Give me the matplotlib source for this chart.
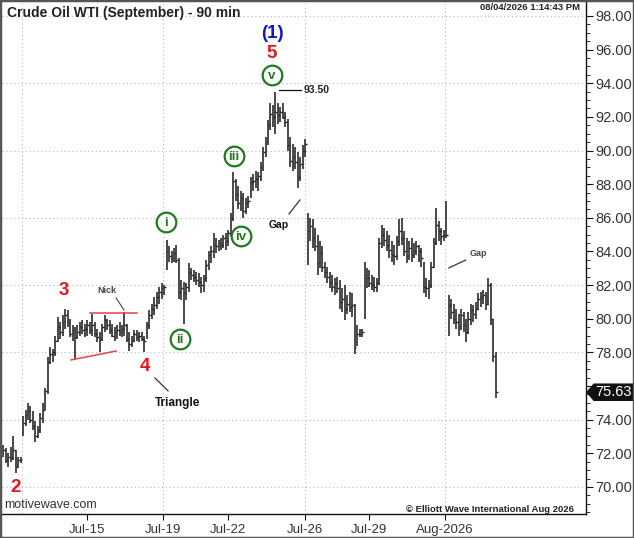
import matplotlib
matplotlib.use("Agg")
import matplotlib.pyplot as plt
from matplotlib.patches import Rectangle, Polygon
import matplotlib.transforms as mtransforms

plt.rcParams['font.family'] = ['Liberation Sans', 'DejaVu Sans']

# ---------------- data (90-min bars) ----------------
highs = [
    72.5, 72.3, 72.0, 72.4, 73.0, 72.2, 71.8, 71.8,
    74.2, 74.6, 75.0, 74.8, 74.5, 73.9, 73.6, 74.4, 75.0, 75.9, 77.7,
    78.3, 78.2, 79.0, 80.1, 79.8, 80.2, 80.6, 80.5, 80.0, 79.6, 79.5,
    79.6, 79.8, 79.9, 79.7, 79.9, 79.8, 80.3, 79.8, 79.4, 79.2,
    79.7, 80.2, 80.0, 79.9, 79.7, 79.5, 79.6, 79.8, 79.6, 80.4,
    79.7, 79.2, 79.0, 79.3, 79.3, 79.2, 79.2, 79.0,
    79.8, 80.5, 80.9, 81.3, 81.6, 81.9, 82.1, 82.0,
    84.7, 84.3, 84.0, 84.2, 84.4, 83.6, 82.3, 82.2, 82.1, 83.3,
    83.0, 82.9, 82.8, 82.7, 82.5, 82.6, 83.5, 84.0, 84.3, 85.1,
    84.8, 84.7, 84.8, 85.0, 85.1, 85.3, 86.3, 88.7, 88.3, 87.9,
    87.6, 87.5, 87.2, 87.3, 88.4, 88.6, 88.8, 88.7, 89.3, 90.2,
    90.8, 91.8, 92.8, 92.7, 93.5, 92.8, 92.6, 92.8, 92.3, 91.9,
    90.8, 90.4, 90.2, 89.9, 89.6, 90.3, 90.7,
    86.3, 86.0, 85.9, 85.4, 85.0, 84.6, 84.3, 83.4, 83.1, 82.8,
    82.6, 82.4, 82.5, 82.3, 81.8, 82.0, 81.4, 81.6, 81.5, 80.9,
    79.6, 79.4, 79.4, 83.4, 83.0, 82.9, 82.6, 82.5, 82.4, 84.8,
    85.6, 85.4, 85.2, 85.0, 84.6, 84.4, 84.9, 85.9, 86.0, 85.2,
    84.8, 84.6, 84.8, 84.5, 84.6, 84.4, 84.2, 83.4, 82.4, 82.3,
    83.4, 84.8, 86.6, 85.8, 85.4, 85.3, 87.0,
    81.4, 81.2, 80.9, 80.6, 80.3, 80.6, 80.4, 80.0, 80.4, 80.9,
    80.8, 81.0, 81.5, 81.6, 81.7, 81.6, 82.4, 82.1, 80.0, 78.0,
]
lows = [
    71.8, 71.4, 71.2, 71.5, 71.6, 70.8, 71.1, 71.4,
    73.0, 73.6, 74.0, 73.8, 73.4, 72.7, 72.9, 73.2, 73.8, 74.6, 75.5,
    77.3, 77.4, 77.8, 78.6, 78.8, 79.0, 79.4, 79.5, 78.9, 78.7, 77.6,
    78.8, 79.0, 79.1, 78.9, 79.0, 79.1, 79.0, 78.9, 78.6, 78.0,
    78.7, 79.2, 79.3, 79.1, 78.9, 78.7, 78.8, 79.0, 78.9, 79.0,
    78.6, 78.1, 78.3, 78.6, 78.7, 78.6, 78.7, 78.0,
    78.8, 79.4, 80.0, 80.2, 80.6, 80.9, 81.2, 81.4,
    82.9, 83.4, 83.3, 83.4, 83.3, 81.2, 81.1, 79.7, 81.1, 81.6,
    82.3, 82.2, 82.0, 81.9, 81.5, 81.6, 82.2, 82.9, 83.3, 83.6,
    83.9, 84.0, 84.1, 84.2, 84.1, 84.3, 84.9, 85.8, 87.0, 86.5,
    86.4, 86.0, 86.2, 86.6, 87.2, 87.6, 87.8, 87.6, 88.2, 88.8,
    89.6, 90.3, 91.2, 91.4, 91.0, 91.6, 91.7, 91.9, 91.4, 90.0,
    89.0, 88.8, 88.9, 87.8, 88.2, 88.9, 89.6,
    83.2, 84.6, 84.2, 84.0, 82.6, 83.0, 82.8, 82.4, 82.1, 81.8,
    81.6, 81.4, 81.5, 80.6, 80.4, 79.9, 80.3, 80.4, 80.1, 77.9,
    78.4, 78.9, 78.9, 80.0, 81.8, 81.9, 81.7, 81.6, 81.6, 82.0,
    84.2, 84.3, 84.0, 83.6, 83.4, 83.2, 83.5, 84.3, 84.4, 83.7,
    83.3, 83.5, 83.4, 83.6, 83.8, 83.4, 83.1, 81.5, 81.3, 81.2,
    81.8, 83.0, 84.4, 84.6, 84.4, 84.6, 84.8,
    79.0, 80.0, 79.7, 79.4, 79.0, 79.3, 79.2, 78.6, 79.1, 79.6,
    79.8, 80.0, 80.5, 80.7, 80.9, 80.5, 80.8, 79.6, 77.4, 75.3,
]
closes = [
    72.2, 71.6, 71.8, 71.7, 72.2, 71.2, 71.6, 71.6,
    73.8, 74.3, 74.5, 74.0, 73.6, 73.0, 73.4, 74.1, 74.6, 75.7, 77.4,
    77.9, 78.0, 78.7, 79.5, 79.2, 79.8, 80.2, 79.8, 79.1, 79.3, 78.9,
    79.2, 79.5, 79.3, 79.4, 79.6, 79.3, 79.6, 79.1, 78.9, 78.8,
    79.5, 79.9, 79.6, 79.3, 79.0, 79.2, 79.3, 79.2, 79.4, 79.6,
    78.8, 78.5, 78.7, 79.1, 78.9, 79.0, 78.8, 78.7,
    79.6, 80.2, 80.6, 80.8, 81.3, 81.6, 81.8, 81.9,
    84.0, 83.7, 83.6, 83.9, 83.5, 81.6, 81.8, 81.5, 81.9, 82.8,
    82.6, 82.5, 82.3, 82.2, 82.0, 82.4, 83.2, 83.8, 84.0, 84.4,
    84.3, 84.5, 84.4, 84.8, 84.6, 85.1, 86.0, 88.2, 87.4, 86.9,
    87.2, 86.4, 86.9, 87.0, 88.1, 88.2, 88.3, 88.5, 89.0, 89.9,
    90.5, 91.5, 92.2, 92.0, 92.3, 92.1, 92.3, 92.0, 91.7, 90.3,
    89.4, 89.6, 89.3, 88.4, 89.2, 90.0, 90.4,
    85.2, 85.5, 84.8, 84.3, 83.3, 83.9, 83.1, 82.8, 82.5, 82.2,
    81.9, 82.1, 81.8, 81.0, 81.2, 80.6, 80.9, 80.7, 80.8, 78.3,
    79.1, 79.1, 79.2, 82.4, 82.4, 82.1, 82.0, 81.9, 82.1, 84.5,
    85.0, 84.7, 84.4, 84.1, 83.8, 83.7, 84.6, 85.2, 84.8, 84.0,
    83.7, 84.2, 83.8, 84.0, 84.3, 84.0, 83.6, 81.9, 81.8, 82.0,
    83.1, 84.5, 85.6, 85.2, 84.9, 85.0, 85.0,
    80.8, 80.4, 80.0, 79.8, 79.5, 80.2, 79.6, 79.2, 80.0, 80.5,
    80.3, 80.6, 81.2, 81.3, 81.4, 80.9, 82.0, 80.0, 77.8, 75.63,
]
date_labels = ["Jul-15", "Jul-19", "Jul-22", "Jul-26", "Jul-29", "Aug-2026"]
date_bars = [33.8, 64.5, 90.8, 121.9, 147.8, 178.5]      # bar index of each date label
week_bars = [7.6, 64.5, 121.9, 178.5]                     # weekly grid (Sundays)
last_price = 75.63
peak_price = 93.50

# ---------------- figure ----------------
W, H = 634, 538
fig = plt.figure(figsize=(W / 100, H / 100), dpi=100)
fig.patch.set_facecolor('white')
ax = fig.add_axes([2 / W, 24 / H, 584 / W, 512 / H])
ax.set_xlim(-0.5, 235.5)
ax.set_ylim(68.39, 98.83)

# grid
for y in range(70, 99, 4):
    ax.axhline(y, color='#b8b8b8', lw=0.8, ls=(0, (1, 2.5)), zorder=0)
for xb in week_bars:
    ax.axvline(xb, color='#b8b8b8', lw=0.8, ls=(0, (1, 2.5)), zorder=0)

# OHLC bars
idx = list(range(len(closes)))
ax.vlines(idx, lows, highs, color='#222222', lw=1.15, zorder=3)
ax.hlines(closes, [i for i in idx], [i + 0.75 for i in idx], color='#222222', lw=1.0, zorder=3)

# axes style
for s in ['left', 'top']:
    ax.spines[s].set_visible(False)
for s in ['right', 'bottom']:
    ax.spines[s].set_color('#111111')
    ax.spines[s].set_linewidth(1.0)
ax.yaxis.tick_right()
yt = list(range(70, 99, 2))
ax.set_yticks(yt)
# the 76.00 label sits under the last-price tag, as in the reference
ax.set_yticklabels(["" if y == 76 else f"{y:.2f}" for y in yt])
ax.set_yticks([y / 2 for y in range(137, 197)], minor=True)
ax.tick_params(axis='y', which='major', length=5, width=0.8, pad=2, labelsize=10.5, colors='#111111', labelcolor='#333333')
ax.tick_params(axis='y', which='minor', length=3, width=0.6, colors='#111111')
ax.set_xticks(date_bars)
ax.set_xticklabels(date_labels)
ax.tick_params(axis='x', which='major', length=4, width=0.8, pad=3, labelsize=9.5, colors='#111111', labelcolor='#333333')

# last price tag
tr = mtransforms.blended_transform_factory(ax.transAxes, ax.transData)
pxw = 1 / 584
hh = 0.48
tag = Polygon([(1.0 + 1 * pxw, last_price), (1.0 + 8 * pxw, last_price + hh),
               (1.0 + 47 * pxw, last_price + hh), (1.0 + 47 * pxw, last_price - hh),
               (1.0 + 8 * pxw, last_price - hh)], closed=True, transform=tr,
              facecolor='#111111', edgecolor='#111111', clip_on=False, zorder=10)
ax.add_patch(tag)
ax.text(1.0 + 9 * pxw, last_price, f"{last_price:.2f}", transform=tr, color='white',
        fontsize=10.5, va='center', ha='left', zorder=11, clip_on=False)

# wave labels
red = '#e8141c'
green = '#1f7a1f'
blue = '#1414c8'
ax.text(108.6, 96.93, "(1)", color=blue, fontsize=13.5, fontweight='bold', ha='center', va='center')
ax.text(108.6, 95.74, "5", color=red, fontsize=13.5, fontweight='bold', ha='center', va='center')
ax.text(24.6, 81.65, "3", color=red, fontsize=13.5, fontweight='bold', ha='center', va='center')
ax.text(57.3, 77.13, "4", color=red, fontsize=13.5, fontweight='bold', ha='center', va='center')
ax.text(4.8, 69.94, "2", color=red, fontsize=13.5, fontweight='bold', ha='center', va='center')

circ = [("v", 108.6, 94.49), ("iii", 93.2, 89.68), ("iv", 96.1, 84.92),
        ("i", 65.8, 85.75), ("ii", 71.4, 78.8)]
for lab, cx, cy in circ:
    ax.scatter([cx], [cy], s=200, facecolor='white', edgecolor=green, linewidths=1.6, zorder=6)
    ax.text(cx, cy - 0.05, lab, color=green, fontsize=9.5, fontweight='bold',
            ha='center', va='center', zorder=7)

# 93.50 marker
ax.plot([111.4, 120.3], [93.6, 93.6], color='#111111', lw=0.9)
ax.text(121.3, 93.6, f"{peak_price:.2f}", fontsize=7.5, fontweight='bold', color='#222222',
        ha='left', va='center')

# triangle lines
ax.plot([35.1, 54.0], [80.34, 80.34], color='#f04040', lw=1.1, zorder=4)
ax.plot([27.4, 45.6], [77.55, 78.08], color='#f04040', lw=1.1, zorder=4)

# Nick
ax.text(41.9, 81.65, "Nick", fontsize=6.5, fontweight='bold', color='#444444', ha='center', va='center')
ax.plot([45.6, 48.8], [81.23, 80.52], color='#444444', lw=0.8)

# Triangle
ax.text(70.6, 75.0, "Triangle", fontsize=8.5, fontweight='bold', color='#111111', ha='center', va='center')
ax.plot([61.3, 66.6], [76.48, 75.71], color='#333333', lw=0.9)

# Gaps
ax.text(111.4, 85.57, "Gap", fontsize=7.5, fontweight='bold', color='#111111', ha='center', va='center')
ax.plot([115.5, 119.9], [86.23, 87.06], color='#333333', lw=0.9)
ax.text(192.2, 83.85, "Gap", fontsize=6.5, fontweight='bold', color='#444444', ha='center', va='center')
ax.plot([180.1, 186.9], [83.02, 83.49], color='#333333', lw=0.9)

# header / footer texts
fig.text(7 / W, 1 - 13 / H, "Crude Oil WTI (September) - 90 min", fontsize=10,
         fontweight='bold', color='#222222', ha='left', va='center')
fig.text(580 / W, 1 - 8 / H, "08/04/2026 1:14:43 PM", fontsize=6.8,
         fontweight='bold', color='#222222', ha='right', va='center')
fig.text(4 / W, 1 - 505 / H, "motivewave.com", fontsize=9, color='#333333',
         ha='left', va='center')
fig.text(574 / W, 1 - 509 / H, "\u00a9 Elliott Wave International Aug 2026", fontsize=6.8,
         fontweight='bold', color='#222222', ha='right', va='center')

# outer border
fig.patches.append(Rectangle((0, 0), 1, 1, transform=fig.transFigure, fill=False,
                             edgecolor='#555555', lw=2.5))

fig.savefig("out.png", dpi=100)
